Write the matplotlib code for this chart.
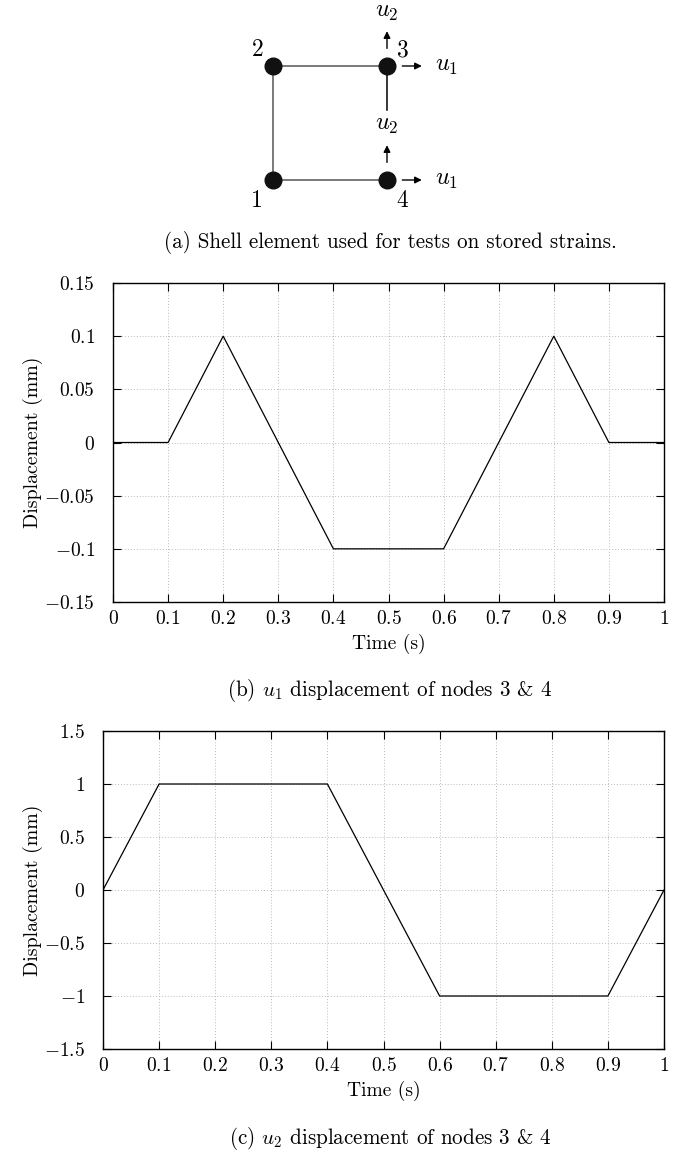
import numpy as np
import matplotlib
matplotlib.use("Agg")
import matplotlib.pyplot as plt
from matplotlib.ticker import FuncFormatter

plt.rcParams['font.family'] = ['cmr10', 'DejaVu Serif']
plt.rcParams['mathtext.fontset'] = 'cm'
plt.rcParams['axes.formatter.use_mathtext'] = True

# shell element: node positions (element units) and edges
node_ids = ['1', '2', '3', '4']
node_x = [0, 0, 1, 1]
node_y = [0, 1, 1, 0]
edges = [(0, 1), (1, 2), (0, 3)]

# prescribed displacements
t_u1 = [0, 0.1, 0.2, 0.4, 0.6, 0.8, 0.9, 1.0]
u1 = [0, 0, 0.1, -0.1, -0.1, 0.1, 0, 0]
t_u2 = [0, 0.1, 0.4, 0.6, 0.9, 1.0]
u2 = [0, 1, 1, -1, -1, 0]

xticks = [0, 0.1, 0.2, 0.3, 0.4, 0.5, 0.6, 0.7, 0.8, 0.9, 1]
yticks_b = [-0.15, -0.1, -0.05, 0, 0.05, 0.1, 0.15]
yticks_c = [-1.5, -1, -0.5, 0, 0.5, 1, 1.5]

FS = 14
CAP = 15.2
W, H = 683, 1155
fig = plt.figure(figsize=(W / 100, H / 100), dpi=100)


def px_axes(l, t, r, b):
    return fig.add_axes([l / W, 1 - b / H, (r - l) / W, (b - t) / H])


# ---- (a) element sketch
ax0 = px_axes(216, 9, 444, 237)
ax0.set_xlim(-0.5, 1.5)
ax0.set_ylim(-0.5, 1.5)
ax0.axis('off')
for i, j in edges:
    ax0.plot([node_x[i], node_x[j]], [node_y[i], node_y[j]], color='#555555', lw=1.1)
ax0.plot([node_x[2], node_x[2]], [node_y[2], 0.61], color='black', lw=1.1)
ax0.plot(node_x, node_y, 'o', color='#111111', ms=12, zorder=3)
lab_off = [(-0.14, -0.18), (-0.13, 0.14), (0.14, 0.14), (0.13, -0.18)]
for k, name in enumerate(node_ids):
    ax0.text(node_x[k] + lab_off[k][0], node_y[k] + lab_off[k][1], name,
             fontsize=17, ha='center', va='center')
arrow = dict(arrowstyle='-|>', color='black', lw=1.0, mutation_scale=10)
for k in [2, 3]:
    ax0.annotate('', xy=(node_x[k] + 0.33, node_y[k]), xytext=(node_x[k] + 0.11, node_y[k]),
                 arrowprops=arrow)
    ax0.text(node_x[k] + 0.52, node_y[k], '$u_1$', fontsize=17.5, ha='center', va='center')
ax0.annotate('', xy=(1, 1.33), xytext=(1, 1.13), arrowprops=arrow, annotation_clip=False)
ax0.text(1, 1.47, '$u_2$', fontsize=17.5, ha='center', va='center', clip_on=False)
ax0.annotate('', xy=(1, 0.33), xytext=(1, 0.13), arrowprops=arrow)
ax0.text(1, 0.48, '$u_2$', fontsize=17.5, ha='center', va='center')

fig.text(390 / W, 1 - 242 / H, '(a) Shell element used for tests on stored strains.',
         fontsize=CAP, ha='center', va='center')


def fmt(v, pos):
    s = '%g' % v
    return '$' + s + '$'


def style(ax, yticks):
    ax.set_xlim(0, 1)
    ax.set_ylim(yticks[0], yticks[-1])
    ax.set_xticks(xticks)
    ax.set_yticks(yticks)
    ax.xaxis.set_major_formatter(FuncFormatter(fmt))
    ax.yaxis.set_major_formatter(FuncFormatter(fmt))
    ax.tick_params(direction='in', length=6, width=0.8, top=True, right=True,
                   labelsize=FS)
    ax.tick_params(axis='x', pad=6)
    ax.tick_params(axis='y', pad=13)
    ax.grid(True, linestyle=(0, (1, 2)), color='#bbbbbb', lw=0.7)
    for s in ax.spines.values():
        s.set_linewidth(1.0)
    ax.set_xlabel('Time (s)', fontsize=FS, labelpad=4)
    ax.set_ylabel('Displacement (mm)', fontsize=FS + 0.3)


# ---- (b) u1
ax1 = px_axes(113, 283, 664, 602)
ax1.plot(t_u1, u1, color='black', lw=0.9)
style(ax1, yticks_b)
ax1.yaxis.set_label_coords((43 - 113) / 551, 0.5)
fig.text(390 / W, 1 - 690 / H, '(b) $u_1$ displacement of nodes 3 & 4',
         fontsize=CAP, ha='center', va='center')

# ---- (c) u2
ax2 = px_axes(103, 731, 664, 1049)
ax2.plot(t_u2, u2, color='black', lw=0.9)
style(ax2, yticks_c)
ax2.yaxis.set_label_coords((43 - 103) / 561, 0.5)
fig.text(390 / W, 1 - 1138 / H, '(c) $u_2$ displacement of nodes 3 & 4',
         fontsize=CAP, ha='center', va='center')

fig.savefig('out.png', dpi=100)
